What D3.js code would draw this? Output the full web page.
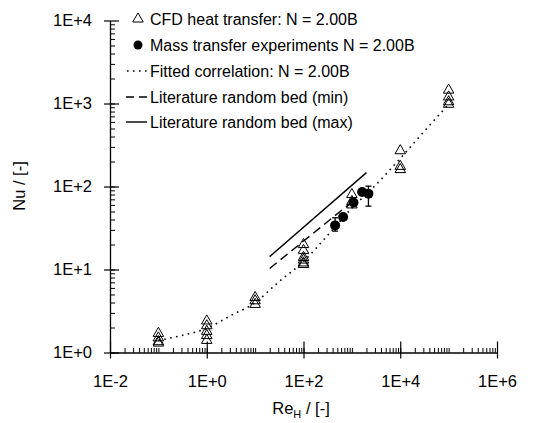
<!DOCTYPE html>
<html>
<head>
<meta charset="utf-8">
<script src="https://cdn.jsdelivr.net/npm/d3@7"></script>
<style>
  html, body { margin: 0; padding: 0; background: #fff; }
  svg { display: block; font-family: Arial, "Liberation Sans", sans-serif; }
</style>
</head>
<body>
<svg id="chart" width="544" height="423"></svg>
<script>
// CFD heat transfer results (open triangles)
const cfdRe = [0.1, 0.1, 0.1, 0.1,
               1, 1, 1, 1, 1,
               10, 10, 10,
               100, 100, 100, 100, 100, 100,
               1000, 1000, 1000,
               10000, 10000, 10000,
               100000, 100000, 100000, 100000];
const cfdNu = [1.7, 1.5, 1.35, 1.3,
               2.4, 2.1, 1.8, 1.6, 1.4,
               4.6, 4.2, 3.8,
               20, 17, 14, 13, 12, 11.5,
               80, 66, 60,
               270, 175, 160,
               1450, 1200, 1050, 980];

// Mass transfer experiments (filled circles with error bars)
const expRe = [450, 660, 1080, 1630, 2200];
const expNu = [34, 43, 64, 86, 82];
const expLo = [29, 43, 64, 86, 58];
const expHi = [42, 43, 64, 86, 101];

// Fitted correlation (dotted curve)
const fitRe = [0.1, 0.3, 1, 3, 10, 30, 100, 300, 1000, 3000, 10000, 30000, 100000];
const fitNu = [1.4, 1.6, 1.95, 2.75, 4.0, 7.0, 12.5, 25, 55, 102, 218, 450, 980];

// Literature correlations for random packed beds
const litMinRe = [20, 1000];
const litMinNu = [10.3, 65];
const litMaxRe = [20, 2000];
const litMaxNu = [14.3, 147];

// Axis ticks
const xTickValues = [1e-2, 1e0, 1e2, 1e4, 1e6];
const xTickLabels = ["1E-2", "1E+0", "1E+2", "1E+4", "1E+6"];
const yTickValues = [1e0, 1e1, 1e2, 1e3, 1e4];
const yTickLabels = ["1E+0", "1E+1", "1E+2", "1E+3", "1E+4"];

const legendLabels = [
  "CFD heat transfer: N = 2.00B",
  "Mass transfer experiments N = 2.00B",
  "Fitted correlation: N = 2.00B",
  "Literature random bed (min)",
  "Literature random bed (max)"
];

const svg = d3.select("#chart");
const x = d3.scaleLog().domain([1e-2, 1e6]).range([110, 497]);
const y = d3.scaleLog().domain([1, 1e4]).range([352.5, 20.5]);

// tick values 1..9 within each decade
function minors(lo, hi) {
  const out = [];
  for (let e = lo; e < hi; e++) {
    for (let m = 1; m <= 9; m++) out.push(m * Math.pow(10, e));
  }
  return out;
}

// x axis minor ticks (inside, upward)
const xMinor = d3.axisBottom(x).tickValues(minors(-2, 6)).tickSizeInner(-4.5).tickSizeOuter(0).tickFormat("");
const gxm = svg.append("g").attr("transform", `translate(0,${y(1)})`).call(xMinor);
gxm.select(".domain").remove();

// x axis major ticks crossing the axis line
const xMajor = d3.axisBottom(x).tickValues(xTickValues).tickSizeInner(6).tickSizeOuter(0)
  .tickFormat((d, i) => xTickLabels[i]).tickPadding(17);
const gx = svg.append("g").attr("transform", `translate(0,${y(1)})`).call(xMajor);
gx.selectAll(".tick line").attr("y1", -11).attr("stroke-width", 1.2);
gx.select(".domain").attr("stroke-width", 1.3);
gx.selectAll("text").attr("font-size", 16.5).attr("fill", "#000");

// y axis minor ticks (inside, rightward)
const yMinor = d3.axisLeft(y).tickValues(minors(0, 4)).tickSizeInner(-5).tickSizeOuter(0).tickFormat("");
const gym = svg.append("g").attr("transform", `translate(${x(1e-2)},0)`).call(yMinor);
gym.select(".domain").remove();

const yMajor = d3.axisLeft(y).tickValues(yTickValues).tickSizeInner(6).tickSizeOuter(0)
  .tickFormat((d, i) => yTickLabels[i]).tickPadding(12);
const gy = svg.append("g").attr("transform", `translate(${x(1e-2)},0)`).call(yMajor);
gy.selectAll(".tick line").attr("x2", 9).attr("x1", -6).attr("stroke-width", 1.2);
gy.select(".domain").attr("stroke-width", 1.3);
gy.selectAll("text").attr("font-size", 16.5).attr("fill", "#000");

// axis titles
const xt = svg.append("text").attr("x", 301).attr("y", 414).attr("text-anchor", "middle")
  .attr("font-size", 16.5).attr("fill", "#000");
xt.append("tspan").text("Re");
xt.append("tspan").attr("font-size", 11).attr("dy", 4).text("H");
xt.append("tspan").attr("dy", -4).text(" / [-]");

svg.append("text").attr("transform", `translate(25,186) rotate(-90)`)
  .attr("text-anchor", "middle").attr("font-size", 16.5).attr("fill", "#000").text("Nu / [-]");

const plot = svg.append("g");

// fitted correlation
const line = d3.line().x(d => x(d[0])).y(d => y(d[1])).curve(d3.curveMonotoneX);
plot.append("path").datum(fitRe.map((r, i) => [r, fitNu[i]]))
  .attr("d", line).attr("fill", "none").attr("stroke", "#000")
  .attr("stroke-width", 1.6).attr("stroke-dasharray", "1.6,4.4");

// literature lines
const straight = d3.line().x(d => x(d[0])).y(d => y(d[1]));
plot.append("path").datum(litMinRe.map((r, i) => [r, litMinNu[i]]))
  .attr("d", straight).attr("fill", "none").attr("stroke", "#000")
  .attr("stroke-width", 1.4).attr("stroke-dasharray", "9,5");
plot.append("path").datum(litMaxRe.map((r, i) => [r, litMaxNu[i]]))
  .attr("d", straight).attr("fill", "none").attr("stroke", "#000").attr("stroke-width", 1.4);

// triangle marker
const tri = d3.symbol().type(d3.symbolTriangle).size(48);

plot.selectAll(".cfd").data(cfdRe.map((r, i) => [r, cfdNu[i]])).join("path")
  .attr("class", "cfd")
  .attr("transform", d => `translate(${x(d[0])},${y(d[1])})`)
  .attr("d", tri()).attr("fill", "none").attr("stroke", "#000").attr("stroke-width", 1);

// experiments with error bars
const exp = expRe.map((r, i) => ({ re: r, nu: expNu[i], lo: expLo[i], hi: expHi[i] }));
const eb = plot.selectAll(".err").data(exp.filter(d => d.hi > d.lo)).join("g")
  .attr("stroke", "#000").attr("stroke-width", 1.3);
eb.append("line").attr("x1", d => x(d.re)).attr("x2", d => x(d.re)).attr("y1", d => y(d.lo)).attr("y2", d => y(d.hi));
eb.append("line").attr("x1", d => x(d.re) - 3).attr("x2", d => x(d.re) + 3).attr("y1", d => y(d.lo)).attr("y2", d => y(d.lo));
eb.append("line").attr("x1", d => x(d.re) - 3).attr("x2", d => x(d.re) + 3).attr("y1", d => y(d.hi)).attr("y2", d => y(d.hi));

plot.selectAll(".exp").data(exp).join("circle")
  .attr("cx", d => x(d.re)).attr("cy", d => y(d.nu)).attr("r", 5).attr("fill", "#000");

// legend
const lg = svg.append("g");
const rowY = [19, 45, 71, 97, 122];
legendLabels.forEach((t, i) => {
  lg.append("text").attr("x", 150).attr("y", rowY[i]).attr("dy", "0.35em")
    .attr("font-size", 16).attr("fill", "#000").text(t);
});
lg.append("path").attr("transform", `translate(138,${rowY[0]})`).attr("d", tri())
  .attr("fill", "none").attr("stroke", "#000");
lg.append("circle").attr("cx", 138).attr("cy", rowY[1]).attr("r", 4.5).attr("fill", "#000");
lg.append("line").attr("x1", 127).attr("x2", 147).attr("y1", rowY[2]).attr("y2", rowY[2])
  .attr("stroke", "#000").attr("stroke-width", 1.6).attr("stroke-dasharray", "1.6,4.4");
lg.append("line").attr("x1", 126).attr("x2", 147).attr("y1", rowY[3]).attr("y2", rowY[3])
  .attr("stroke", "#000").attr("stroke-width", 1.4).attr("stroke-dasharray", "8,5");
lg.append("line").attr("x1", 126).attr("x2", 147).attr("y1", rowY[4]).attr("y2", rowY[4])
  .attr("stroke", "#000").attr("stroke-width", 1.4);
</script>
</body>
</html>
